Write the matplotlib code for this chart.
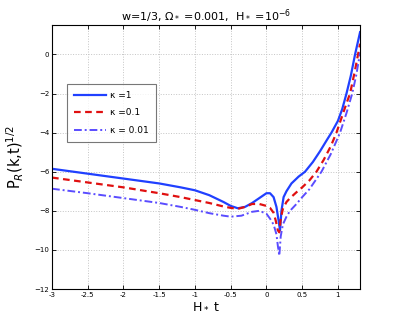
import matplotlib
matplotlib.use("Agg")
import matplotlib.pyplot as plt

# values
t_k1 = [-3.0, -2.5, -2.0, -1.5, -1.2, -1.0, -0.8, -0.6, -0.5, -0.4, -0.3, -0.2, -0.1, 0.0,
        0.05, 0.1, 0.14, 0.17, 0.19, 0.21, 0.24, 0.28, 0.35, 0.45, 0.54, 0.65, 0.75, 0.85,
        0.91, 1.0, 1.06, 1.12, 1.18, 1.24, 1.31]
p_k1 = [-5.85, -6.1, -6.35, -6.6, -6.8, -6.95, -7.2, -7.55, -7.75, -7.87, -7.8, -7.6,
        -7.35, -7.1, -7.1, -7.3, -7.8, -8.5, -9.0, -8.0, -7.3, -7.0, -6.6, -6.25, -6.0,
        -5.5, -4.95, -4.35, -4.0, -3.4, -2.8, -2.0, -1.1, 0.0, 1.14]

t_k01 = [-3.0, -2.5, -2.0, -1.5, -1.2, -1.0, -0.8, -0.6, -0.5, -0.4, -0.3, -0.2, -0.1, 0.0,
         0.05, 0.1, 0.13, 0.16, 0.18, 0.2, 0.23, 0.28, 0.33, 0.42, 0.5, 0.6, 0.7, 0.8,
         0.9, 0.98, 1.05, 1.12, 1.17, 1.24, 1.31]
p_k01 = [-6.3, -6.55, -6.8, -7.1, -7.3, -7.45, -7.6, -7.78, -7.85, -7.9, -7.8, -7.65,
         -7.65, -7.75, -7.85, -8.1, -8.5, -9.0, -9.1, -8.4, -7.9, -7.55, -7.35, -7.05,
         -6.8, -6.45, -6.0, -5.4, -4.7, -4.0, -3.25, -2.5, -2.0, -0.8, 0.55]

t_k001 = [-3.0, -2.5, -2.0, -1.5, -1.2, -1.0, -0.8, -0.6, -0.5, -0.35, -0.2, -0.1, 0.0,
          0.05, 0.1, 0.14, 0.16, 0.18, 0.2, 0.23, 0.28, 0.33, 0.42, 0.5, 0.6, 0.77, 0.9,
          1.03, 1.12, 1.2, 1.26, 1.31]
p_k001 = [-6.87, -7.1, -7.35, -7.6, -7.8, -7.95, -8.12, -8.25, -8.3, -8.25, -8.05,
          -8.0, -8.15, -8.4, -8.7, -9.2, -9.8, -10.3, -9.3, -8.7, -8.3, -8.0, -7.65,
          -7.3, -6.9, -6.0, -5.1, -4.0, -3.0, -2.0, -1.0, 0.1]

x_ticks = [-3, -2.5, -2, -1.5, -1, -0.5, 0, 0.5, 1]
y_ticks = [-12, -10, -8, -6, -4, -2, 0]


def main() -> None:
    plt.rcParams["font.family"] = ["DejaVu Sans"]
    plt.rcParams["mathtext.fontset"] = "dejavusans"

    fig = plt.figure(figsize=(3.98, 3.27), dpi=100)
    ax = fig.add_axes([0.1307, 0.1162, 0.774, 0.807])

    ax.plot(t_k1, p_k1, color="#2040ff", lw=1.6, ls="-", label="κ =1")
    ax.plot(t_k01, p_k01, color="#e01010", lw=1.6, ls=(0, (3, 2)), label="κ =0.1")
    ax.plot(t_k001, p_k001, color="#5a4cff", lw=1.4, ls=(0, (4, 1.5, 1, 1.5)),
            label="κ = 0.01")

    ax.set_xlim(-3, 1.31)
    ax.set_ylim(-12, 1.5)
    ax.set_xticks(x_ticks)
    ax.set_xticklabels([f"{v:g}" for v in x_ticks])
    ax.set_yticks(y_ticks)
    ax.tick_params(direction="in", labelsize=5, length=3, width=0.6, top=True, right=True,
                   pad=2)
    ax.grid(True, ls=":", color="#c4c4c4", lw=0.7)
    for s in ax.spines.values():
        s.set_linewidth(0.8)

    ax.set_title(r"w=1/3, $\Omega_*$ =0.001,  H$_*$ =10$^{-6}$", fontsize=8, pad=4)
    ax.set_xlabel(r"H$_*$ t", fontsize=9, labelpad=1)
    ax.set_ylabel(r"P$_R$(k,t)$^{1/2}$", fontsize=10.5, labelpad=6)

    leg = ax.legend(loc="upper left", bbox_to_anchor=(0.049, 0.7765), borderaxespad=0,
                    fontsize=6.5, frameon=True, fancybox=False, edgecolor="#555555",
                    handlelength=3.6, borderpad=0.75, labelspacing=0.95, handletextpad=0.4)
    leg.get_frame().set_linewidth(0.8)

    fig.savefig("out.png", dpi=100)


if __name__ == "__main__":
    main()
